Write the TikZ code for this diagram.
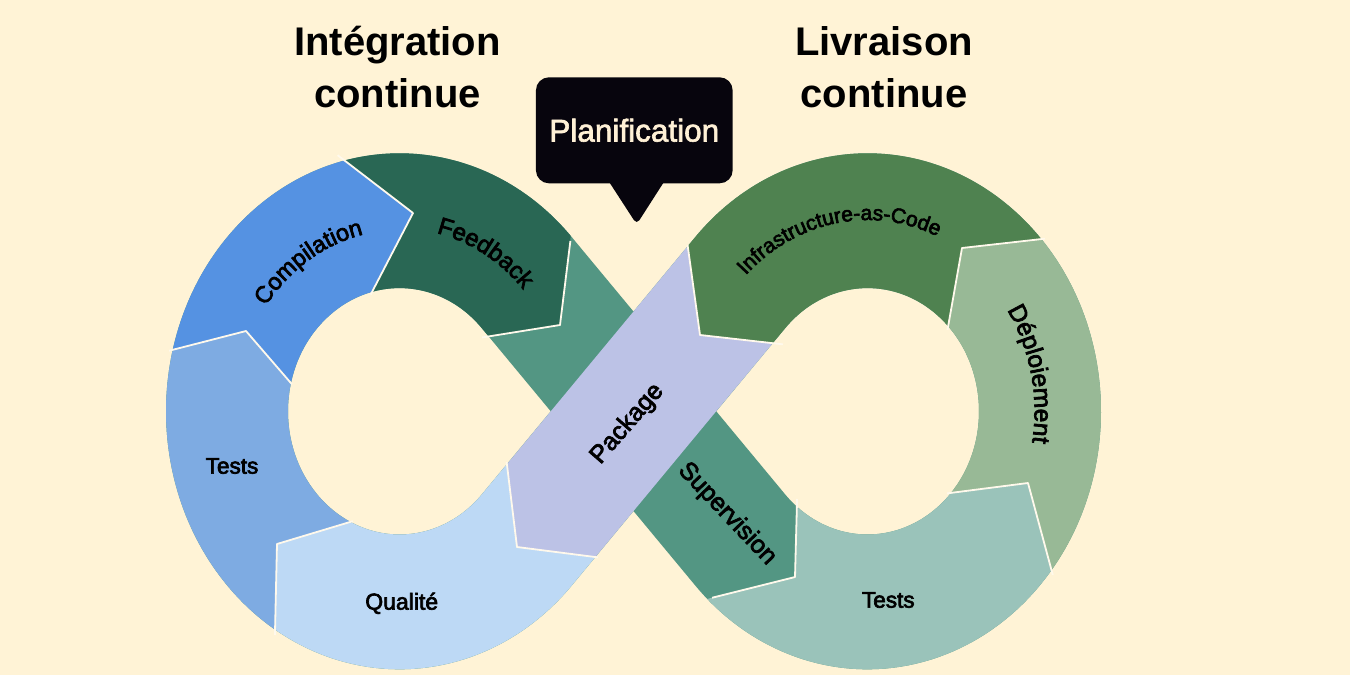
\documentclass[tikz,border=0pt]{standalone}
\usepackage{fontspec}
\setmainfont{Liberation Sans}
\newfontfamily\lblfont{Liberation Sans}[FakeBold=3]
\newfontfamily\planfont{Liberation Sans}[FakeBold=2]
\newfontfamily\ttlfont{Liberation Sans}
\usetikzlibrary{decorations.text}
\definecolor{bg}{HTML}{FFF3D6}
\definecolor{cComp}{HTML}{5592E2}
\definecolor{cTestL}{HTML}{7EABE2}
\definecolor{cQual}{HTML}{BDD9F5}
\definecolor{cFeed}{HTML}{296754}
\definecolor{cSup}{HTML}{539683}
\definecolor{cPack}{HTML}{BCC2E6}
\definecolor{cInfra}{HTML}{4F8250}
\definecolor{cDep}{HTML}{98B996}
\definecolor{cTestR}{HTML}{9AC3BA}
\definecolor{cPlan}{HTML}{07050D}
\definecolor{cPlanTxt}{HTML}{FFF1D6}
\definecolor{cSep}{HTML}{FFF9EC}
\newcommand\infband[1]{%
  \begin{scope}[transform canvas={cm={1,0,0,1.105,(0pt,43.19pt)}}]
    \draw[line width=122pt,#1] (633.5,-411.3) -- (526.68,-294.76)
      arc[start angle=42.5,end angle=317.5,radius=172.5] -- (633.5,-411.3)
      -- (740.32,-294.76) arc[start angle=137.5,end angle=-137.5,radius=172.5] -- cycle;
  \end{scope}}
\newcommand\segfill[2]{\begin{scope}\clip #1;\infband{#2}\end{scope}}
\tikzset{
  sep/.style={draw=cSep,line width=1.8pt,line join=round,shorten <=-3pt,shorten >=-3pt},
  lbl/.style={text=black,inner sep=0pt},
  ttl/.style={text=black,inner sep=0pt,anchor=base,font=\ttlfont\bfseries\fontsize{40}{46}\selectfont},
}
\begin{document}
\begin{tikzpicture}[x=1pt,y=1pt]
\useasboundingbox (0,0) rectangle (1350,-675);
\fill[bg] (0,0) rectangle (1350,-675);
% whole band in supervision colour
\infband{cSup}
% segments
\segfill{(360.5,-314) -- (413,-213) -- (320,-142) -- (330,-100) -- (600,-100) -- (573,-217) -- (560,-325) -- (460,-341) -- cycle}{cFeed}
\segfill{(306,-401) -- (246,-331) -- (148,-356) -- (120,-120) -- (320,-142) -- (413,-213) -- (360.5,-314) -- cycle}{cComp}
\segfill{(374,-515) -- (277,-544) -- (274,-657) -- (130,-660) -- (130,-360) -- (148,-356) -- (246,-331) -- (306,-401) -- cycle}{cTestL}
\segfill{(504,-440) -- (517,-547) -- (620,-560) -- (640,-700) -- (250,-700) -- (274,-657) -- (277,-544) -- (374,-515) -- (420,-430) -- cycle}{cQual}
\segfill{(798,-477) -- (795,-577) -- (691,-603) -- (700,-700) -- (1080,-700) -- (1058.5,-596) -- (1028,-483) -- (925,-496) -- (868,-440) -- cycle}{cTestR}
\segfill{(925,-496) -- (1028,-483) -- (1058.5,-596) -- (1130,-600) -- (1130,-230) -- (1067,-236) -- (962,-248) -- (943.6,-351.6) -- cycle}{cDep}
\segfill{(943.6,-351.6) -- (962,-248) -- (1067,-236) -- (1070,-120) -- (690,-120) -- (684.6,-223) -- (700,-335) -- (805,-347) -- cycle}{cInfra}
\segfill{(684.6,-223) -- (700,-335) -- (805,-347) -- (735.9,-387.5) -- (595,-557.5) -- (517,-547) -- (507,-464.1) -- (671.5,-265.7) -- cycle}{cPack}
% separators
\coordinate (b1i) at (350,-522); \coordinate (b1k) at (277,-544); \coordinate (b1o) at (275,-632);
\coordinate (b2i) at (290,-382); \coordinate (b2k) at (246,-331); \coordinate (b2o) at (172,-350);
\coordinate (b3i) at (372,-292); \coordinate (b3k) at (413,-213); \coordinate (b3o) at (340,-157);
\coordinate (b4i) at (485,-337); \coordinate (b4k) at (560,-325); \coordinate (b4o) at (570,-244);
\coordinate (b5i) at (797,-502); \coordinate (b5k) at (795,-577); \coordinate (b5o) at (715,-597);
\coordinate (b6i) at (950,-493); \coordinate (b6k) at (1028,-483); \coordinate (b6o) at (1052,-572);
\coordinate (b7i) at (948,-327); \coordinate (b7k) at (962,-248); \coordinate (b7o) at (1042,-239);
\coordinate (b8i) at (780,-344); \coordinate (b8k) at (700,-335); \coordinate (b8o) at (688,-248);
\coordinate (b9i) at (507,-465); \coordinate (b9k) at (517,-547); \coordinate (b9o) at (595,-557);
\foreach \b in {b1,b2,b3,b4,b5,b6,b7,b8,b9}{\draw[sep] (\b i) -- (\b k) -- (\b o);}
% curved labels
\path[decorate,decoration={text along path,text align=center,
  text={|\lblfont\fontsize{23.5}{28}\selectfont|Compilation}}]
  ([shift={(399.5,-411.3)}]182:164 and 181.2) arc[start angle=182,end angle=62,x radius=164,y radius=181.2];
\path[decorate,decoration={text along path,text align=center,
  text={|\lblfont\fontsize{24}{28}\selectfont|Feedback}}]
  ([shift={(399.5,-411.3)}]121:165.5 and 182.9) arc[start angle=121,end angle=1,x radius=165.5,y radius=182.9];
\path[decorate,decoration={text along path,text align=center,
  text={|\lblfont\fontsize{21}{26}\selectfont|Infrastructure-as-Code}}]
  ([shift={(867.5,-411.3)}]160:173 and 191.2) arc[start angle=160,end angle=40,x radius=173,y radius=191.2];
\path[decorate,decoration={text along path,text align=center,
  text={|\lblfont\fontsize{24.5}{28}\selectfont|Déploiement}}]
  ([shift={(867.5,-411.3)}]72:167 and 184.5) arc[start angle=72,end angle=-47,x radius=167,y radius=184.5];
% straight labels
\node[lbl,font=\lblfont\fontsize{22.5}{26}\selectfont] (testsL) at (232,-466) {Tests};
\node[lbl,font=\lblfont\fontsize{23}{26}\selectfont] (qual) at (401.7,-603.3) {Qualité};
\node[lbl,font=\lblfont\fontsize{22.5}{26}\selectfont] (testsR) at (888.3,-600) {Tests};
\node[lbl,font=\lblfont\fontsize{25}{28}\selectfont,rotate=49] (pack) at (627.5,-424) {Package};
\node[lbl,font=\lblfont\fontsize{25}{28}\selectfont,rotate=-46.5] (sup) at (727,-514) {Supervision};
% Planification bubble
\fill[cPlan,rounded corners=5pt] (601.4,-170) -- (636.7,-224.4) -- (671.6,-170) -- cycle;
\node[fill=cPlan,rounded corners=13pt,minimum width=196.7pt,minimum height=106pt,inner sep=0pt,
  text=cPlanTxt,font=\planfont\fontsize{31.5}{36}\selectfont] (plan) at (634.3,-130.3) {Planification};
% titles
\node[ttl] (ciA) at (397.5,-55) {Intégration};
\node[ttl] (ciB) at (397.5,-107) {continue};
\node[ttl] (cdA) at (884,-55) {Livraison};
\node[ttl] (cdB) at (884,-107) {continue};
\end{tikzpicture}
\end{document}
